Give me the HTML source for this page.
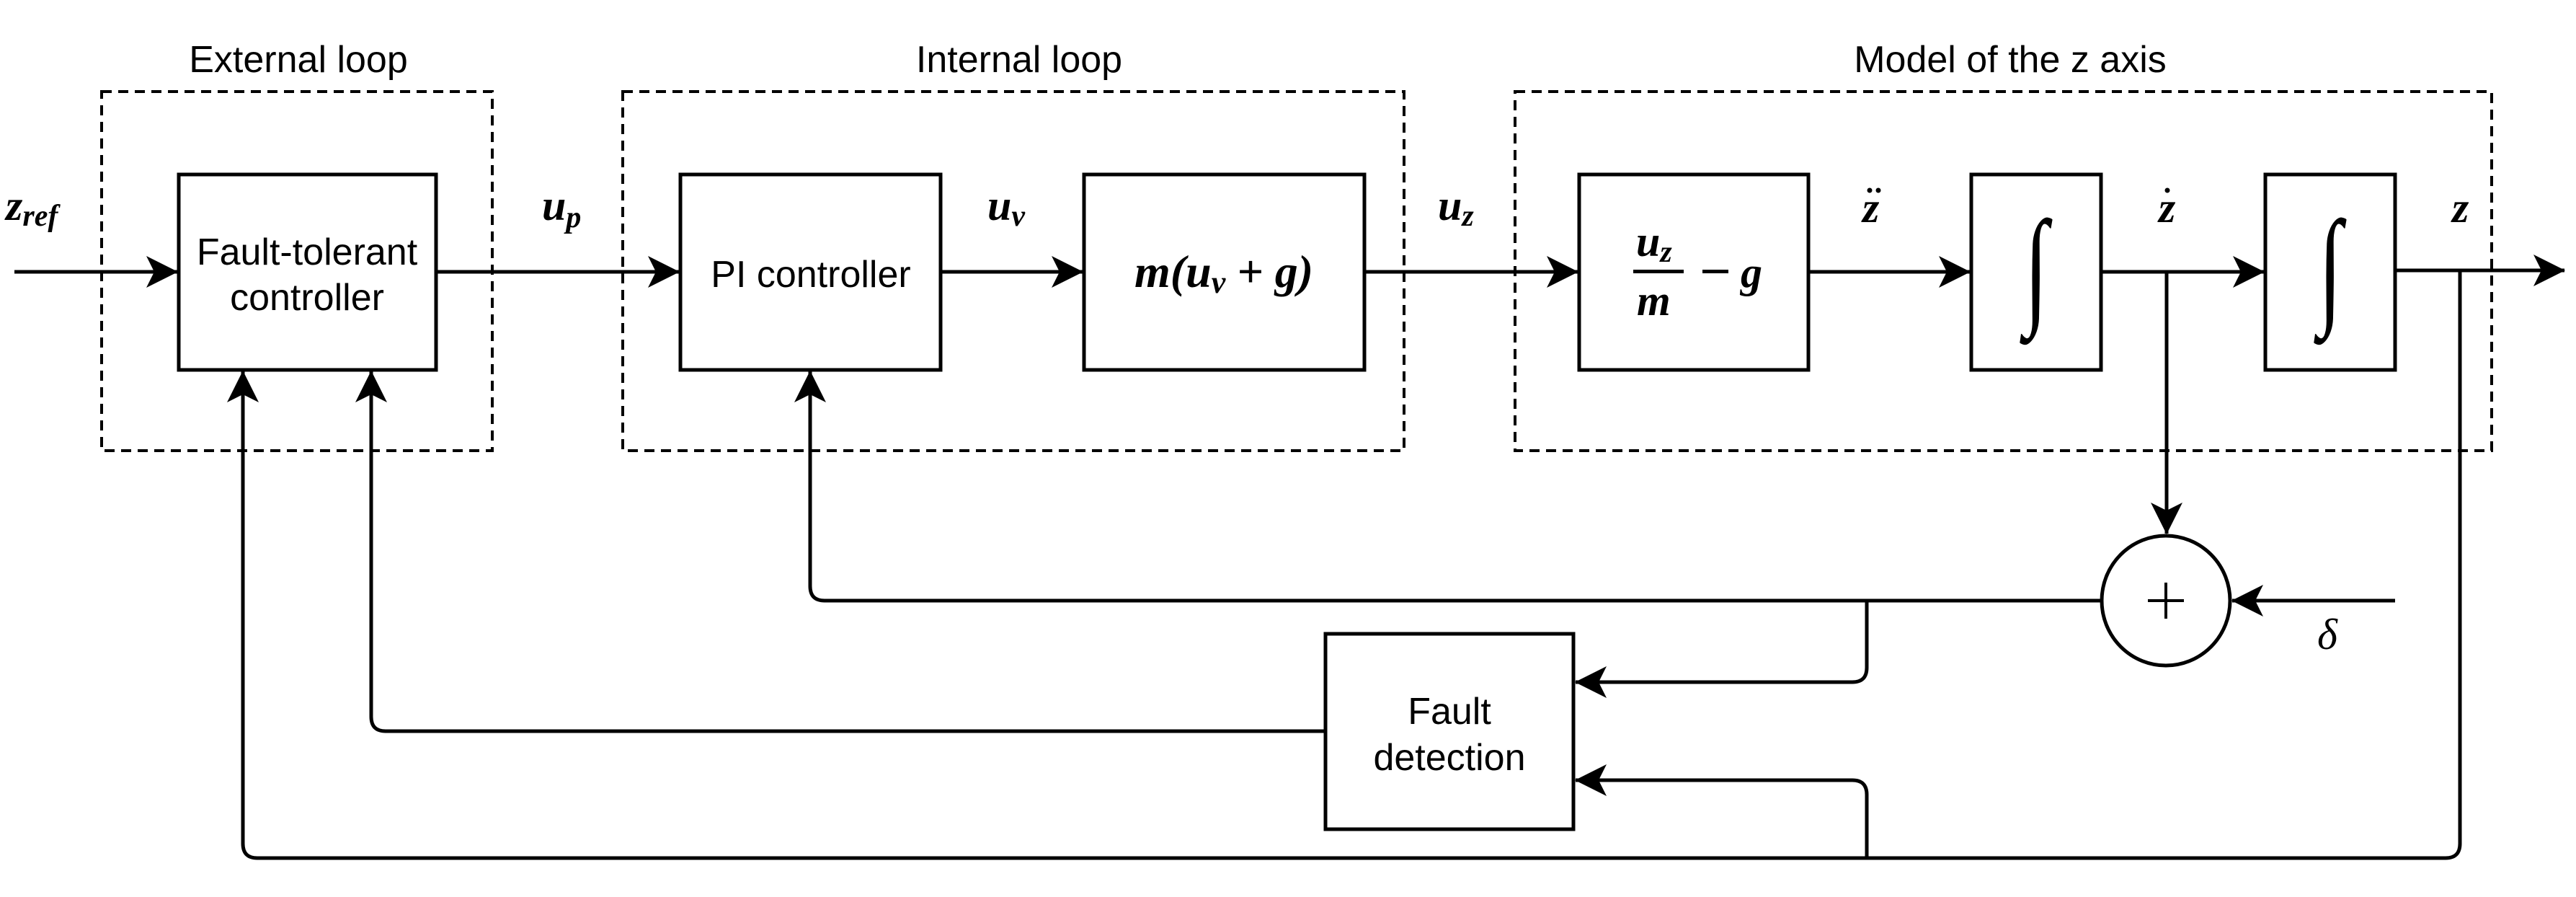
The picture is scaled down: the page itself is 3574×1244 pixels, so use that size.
<!DOCTYPE html>
<html><head><meta charset="utf-8"><style>
html,body{margin:0;padding:0;background:#fff;}
svg{display:block;}
.t{font-family:"Liberation Sans",sans-serif;font-size:52px;fill:#000;}
.m{font-family:"Liberation Serif",serif;font-style:italic;font-weight:bold;font-size:60px;fill:#000;}
</style></head><body>
<svg width="3574" height="1244" viewBox="0 0 3574 1244" xmlns="http://www.w3.org/2000/svg">
<defs>
<marker id="a" markerUnits="userSpaceOnUse" viewBox="0 0 44 44" markerWidth="44" markerHeight="44" refX="43" refY="22" orient="auto">
<path d="M0,0 L44,22 L0,44 L11,22 Z" fill="#000"/>
</marker>
</defs>
<g fill="none" stroke="#000" stroke-width="4" stroke-dasharray="14 9">
<rect x="141" y="127" width="542" height="498"/>
<rect x="864" y="127" width="1084" height="498"/>
<rect x="2102" y="127" width="1355" height="498"/>
</g>
<g class="t" text-anchor="middle">
<text x="414" y="100">External loop</text>
<text x="1414" y="100">Internal loop</text>
<text x="2789" y="100">Model of the z axis</text>
</g>
<g fill="#fff" stroke="#000" stroke-width="5">
<rect x="248" y="242" width="357" height="271"/>
<rect x="944" y="242" width="361" height="271"/>
<rect x="1504" y="242" width="389" height="271"/>
<rect x="2191" y="242" width="318" height="271"/>
<rect x="2735" y="242" width="180" height="271"/>
<rect x="3143" y="242" width="180" height="271"/>
<rect x="1839" y="879" width="344" height="271"/>
<ellipse cx="3005" cy="833" rx="89" ry="90"/>
</g>
<g fill="none" stroke="#000" stroke-width="5">
<path d="M20,377 H246" marker-end="url(#a)"/>
<path d="M605,377 H942" marker-end="url(#a)"/>
<path d="M1305,377 H1502" marker-end="url(#a)"/>
<path d="M1893,377 H2189" marker-end="url(#a)"/>
<path d="M2509,377 H2733" marker-end="url(#a)"/>
<path d="M2915,377 H3141" marker-end="url(#a)"/>
<path d="M3323,375 H3558" marker-end="url(#a)"/>
<path d="M3006,377 V740" marker-end="url(#a)"/>
<path d="M3323,833 H3097" marker-end="url(#a)"/>
<path d="M2916,833 H1144 Q1124,833 1124,813 V515" marker-end="url(#a)"/>
<path d="M2590,833 V926 Q2590,946 2570,946 H2186" marker-end="url(#a)"/>
<path d="M2590,1190 V1102 Q2590,1082 2570,1082 H2186" marker-end="url(#a)"/>
<path d="M1839,1014 H535 Q515,1014 515,994 V515" marker-end="url(#a)"/>
<path d="M3413,375 V1170 Q3413,1190 3393,1190 H357 Q337,1190 337,1170 V515" marker-end="url(#a)"/>
</g>
<g class="t" text-anchor="middle">
<text x="426" y="367">Fault-tolerant</text>
<text x="426" y="430">controller</text>
<text x="1125" y="398">PI controller</text>
<text x="2011" y="1004">Fault</text>
<text x="2011" y="1068">detection</text>
</g>
<path d="M3005,808 V858 M2980,833 H3030" stroke="#000" stroke-width="4"/>
<g class="m">
<text x="8" y="305">z<tspan font-size="42" dy="8">ref</tspan></text>
<text x="752" y="305">u<tspan font-size="42" dy="10">p</tspan></text>
<text x="1370" y="305">u<tspan font-size="42" dy="8">v</tspan></text>
<text x="1995" y="305">u<tspan font-size="42" dy="8">z</tspan></text>
<text x="1698" y="398" text-anchor="middle" font-size="64">m(u<tspan font-size="44" dy="8">v</tspan><tspan dy="-8"> + g)</tspan></text>
<text x="2270" y="355">u<tspan font-size="42" dy="8">z</tspan></text>
<text x="2271" y="437">m</text>
<text x="2415" y="398">g</text>
<text x="2584" y="308">z</text>
<text x="2995" y="308">z</text>
<text x="3402" y="308">z</text>
<text x="3215" y="900" font-weight="normal">δ</text>
</g>
<rect x="2266" y="374" width="70" height="5" fill="#000"/>
<rect x="2362" y="374" width="36" height="5" fill="#000"/>
<circle cx="2594" cy="264" r="3.5"/><circle cx="2606" cy="264" r="3.5"/>
<circle cx="3007" cy="264" r="3.5"/>
<text transform="translate(2825,430) scale(1,1.5)" font-family="Liberation Serif,serif" font-size="120" font-style="italic" text-anchor="middle">∫</text>
<text transform="translate(3233,430) scale(1,1.5)" font-family="Liberation Serif,serif" font-size="120" font-style="italic" text-anchor="middle">∫</text>
</svg>
</body></html>
